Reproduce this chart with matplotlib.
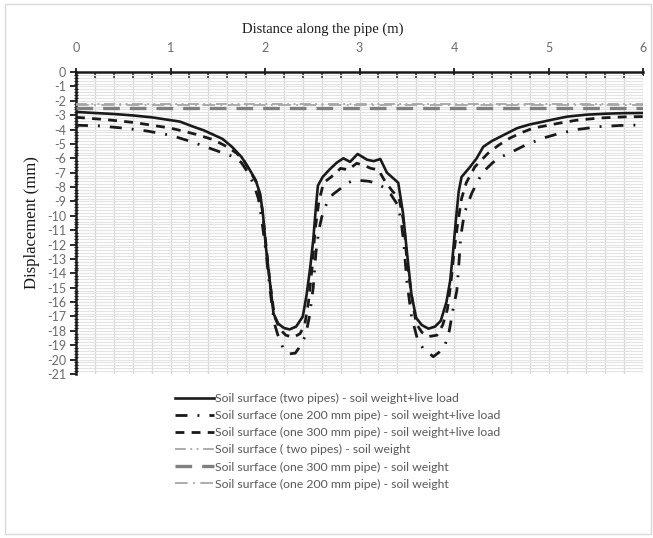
import matplotlib
matplotlib.use("Agg")
import matplotlib.pyplot as plt
from matplotlib.patches import Rectangle
from matplotlib.ticker import MultipleLocator

plt.rcParams['axes.unicode_minus'] = False

# two pipes - soil weight + live load
x_two = [0, 0.2, 0.4, 0.6, 0.8, 1.0, 1.1, 1.24, 1.35, 1.45, 1.55, 1.65, 1.75, 1.82, 1.9, 1.95,
         1.98, 2.01, 2.05, 2.09, 2.14, 2.2, 2.26, 2.33, 2.4, 2.44, 2.48, 2.51, 2.54, 2.56, 2.61,
         2.68, 2.76, 2.83, 2.9, 2.98, 3.08, 3.15, 3.22, 3.29, 3.41, 3.46, 3.5, 3.55, 3.6, 3.66,
         3.73, 3.8, 3.86, 3.92, 3.96, 3.99, 4.02, 4.05, 4.08, 4.17, 4.24, 4.31, 4.4, 4.49, 4.58,
         4.67, 4.8, 4.91, 5.05, 5.2, 5.4, 5.6, 5.8, 6.0]
y_two = [-2.78, -2.85, -2.92, -3.02, -3.15, -3.35, -3.45, -3.8, -4.05, -4.35, -4.65, -5.2, -5.9,
         -6.6, -7.5, -8.5, -10.0, -12.2, -14.5, -16.8, -17.5, -17.8, -17.9, -17.7, -17.0, -15.5,
         -13.5, -11.7, -9.3, -7.9, -7.3, -6.8, -6.3, -6.0, -6.25, -5.7, -6.1, -6.2, -6.05, -7.0,
         -7.7, -9.8, -12.4, -15.5, -17.1, -17.6, -17.85, -17.7, -17.3, -16.0, -14.5, -12.5,
         -10.3, -8.3, -7.3, -6.6, -6.0, -5.2, -4.8, -4.5, -4.2, -3.9, -3.65, -3.5, -3.3, -3.1,
         -2.97, -2.9, -2.86, -2.85]

# one 300 mm pipe - soil weight + live load
x_300 = [0, 0.3, 0.6, 1.0, 1.25, 1.45, 1.6, 1.7, 1.78, 1.85, 1.92, 1.97, 2.01, 2.05, 2.1, 2.16,
         2.22, 2.3, 2.37, 2.42, 2.46, 2.5, 2.53, 2.57, 2.62, 2.7, 2.8, 2.88, 2.97, 3.05, 3.12,
         3.2, 3.27, 3.35, 3.42, 3.47, 3.5, 3.55, 3.6, 3.66, 3.73, 3.82, 3.88, 3.93, 3.97, 4.0,
         4.04, 4.08, 4.13, 4.22, 4.36, 4.47, 4.59, 4.72, 4.84, 5.0, 5.12, 5.3, 5.54, 5.8, 6.0]
y_300 = [-3.15, -3.3, -3.5, -3.9, -4.3, -4.7, -5.2, -5.65, -6.2, -7.0, -7.8, -9.5, -12.0, -14.5,
         -17.0, -17.9, -18.3, -18.45, -18.2, -17.6, -16.0, -13.5, -11.0, -9.0, -7.7, -7.3, -6.7,
         -6.8, -6.35, -6.5, -6.7, -6.8, -7.6, -8.3, -8.8, -10.5, -13.0, -15.5, -17.5, -18.1,
         -18.4, -18.3, -17.6, -16.5, -14.5, -12.5, -10.5, -8.8, -7.7, -6.6, -5.65, -5.1, -4.6,
         -4.2, -3.9, -3.7, -3.55, -3.35, -3.2, -3.12, -3.1]

# one 200 mm pipe - soil weight + live load
x_200 = [0, 0.25, 0.5, 0.75, 1.0, 1.2, 1.35, 1.5, 1.67, 1.75, 1.82, 1.88, 1.93, 1.97, 2.01, 2.05,
         2.1, 2.15, 2.2, 2.26, 2.32, 2.38, 2.43, 2.47, 2.51, 2.54, 2.57, 2.6, 2.66, 2.72, 2.8,
         2.88, 2.95, 3.02, 3.1, 3.16, 3.25, 3.33, 3.4, 3.44, 3.47, 3.5, 3.55, 3.61, 3.67, 3.73,
         3.78, 3.84, 3.9, 3.95, 3.99, 4.03, 4.05, 4.07, 4.11, 4.19, 4.3, 4.41, 4.5, 4.6, 4.75,
         4.94, 5.1, 5.3, 5.54, 5.75, 6.0]
y_200 = [-3.7, -3.75, -3.9, -4.1, -4.4, -4.8, -5.15, -5.5, -5.9, -6.3, -7.0, -7.8, -8.8, -10.5,
         -12.5, -15.0, -17.5, -18.6, -19.3, -19.6, -19.55, -19.0, -18.3, -17.0, -15.0, -12.5,
         -11.0, -10.1, -9.0, -8.5, -8.1, -7.7, -7.5, -7.55, -7.6, -7.7, -8.0, -8.5, -9.2, -10.3,
         -12.0, -14.5, -17.0, -18.5, -19.2, -19.5, -19.8, -19.5, -19.1, -18.0, -16.5, -15.2,
         -13.5, -11.5, -9.8, -8.4, -7.0, -6.3, -5.9, -5.6, -5.1, -4.6, -4.3, -4.0, -3.8, -3.72,
         -3.68]

# soil weight only (flat lines)
x_sw = [0, 6]
y_sw_two = [-2.25, -2.25]
y_sw_300 = [-2.52, -2.52]
y_sw_200 = [-2.32, -2.32]

labels = ['Soil surface (two pipes) - soil weight+live load',
          'Soil surface (one 200 mm pipe) - soil weight+live load',
          'Soil surface (one 300 mm pipe) - soil weight+live load',
          'Soil surface ( two pipes) - soil weight',
          'Soil surface (one 300 mm pipe) - soil weight',
          'Soil surface (one 200 mm pipe) - soil weight']

fig = plt.figure(figsize=(6.53, 5.38), dpi=100)
ax = fig.add_axes([76/653, 1-374/538, (643-76)/653, (374-72)/538])

ax.plot(x_two, y_two, color='#1a1a1a', lw=1.9, label=labels[0], zorder=5)
ax.plot(x_200, y_200, color='#1a1a1a', lw=2.0, ls=(0, (4.3, 3.6, 0.7, 3.6)), label=labels[1], zorder=4)
ax.plot(x_300, y_300, color='#1a1a1a', lw=2.0, ls=(0, (3.2, 2.6)), label=labels[2], zorder=4)
ax.plot(x_sw, y_sw_two, color='#a6a6a6', lw=1.3, ls=(0, (6, 2.5, 1, 2.5, 1, 2.5)), label=labels[3], zorder=3)
ax.plot(x_sw, y_sw_300, color='#808080', lw=2.4, ls=(0, (5, 3)), label=labels[4], zorder=3)
ax.plot(x_sw, y_sw_200, color='#a6a6a6', lw=1.3, ls=(0, (7, 3, 1, 3)), label=labels[5], zorder=3)

ax.set_xlim(0, 6)
ax.set_ylim(-21, 0)
ax.xaxis.tick_top()
ax.xaxis.set_major_locator(MultipleLocator(1))
ax.xaxis.set_minor_locator(MultipleLocator(0.2))
ax.yaxis.set_major_locator(MultipleLocator(1))
ax.yaxis.set_minor_locator(MultipleLocator(0.2))

ax.grid(which='both', axis='x', color='#d9d9d9', lw=0.9, zorder=0)
ax.grid(which='both', axis='y', color='#e3e3e3', lw=0.8, zorder=0)
ax.set_axisbelow(True)

for s in ['right', 'bottom']:
    ax.spines[s].set_visible(False)
for s in ['top', 'left']:
    ax.spines[s].set_linewidth(1.8)
    ax.spines[s].set_color('#1a1a1a')

ax.tick_params(axis='x', which='major', direction='inout', length=6, width=1.3, pad=10,
               labelsize=9, labelcolor='#6b6b6b', color='#1a1a1a')
ax.tick_params(axis='x', which='minor', direction='in', length=4, width=1.1, color='#1a1a1a')
ax.tick_params(axis='y', which='major', direction='out', length=4, width=1.3, pad=3,
               labelsize=9, labelcolor='#6b6b6b', color='#1a1a1a')
ax.tick_params(axis='y', which='minor', direction='inout', length=3, width=0.9, color='#1a1a1a')
for lab in ax.get_xticklabels() + ax.get_yticklabels():
    lab.set_family('Lato')

fig.text(323/653, 1-29/538, 'Distance along the pipe (m)', family='Liberation Serif',
         fontsize=10.5, ha='center', va='center', color='#1a1a1a')
fig.text(32/653, 1-223/538, 'Displacement (mm)', family='Liberation Serif',
         fontsize=12, ha='center', va='center', rotation=90, color='#1a1a1a')

leg = fig.legend(loc='upper left', bbox_to_anchor=(170/653, 1-388/538), frameon=False,
                 prop={'family': 'Lato', 'size': 8.8}, handlelength=3.2, handletextpad=0.12,
                 labelspacing=0.5, borderaxespad=0)
for t in leg.get_texts():
    t.set_color('#595959')

fig.patches.append(Rectangle((5/653, 4/538), 646/653, 530/538, transform=fig.transFigure,
                             fill=False, edgecolor='#d9d9d9', lw=1))

fig.savefig('out.png', dpi=100)
